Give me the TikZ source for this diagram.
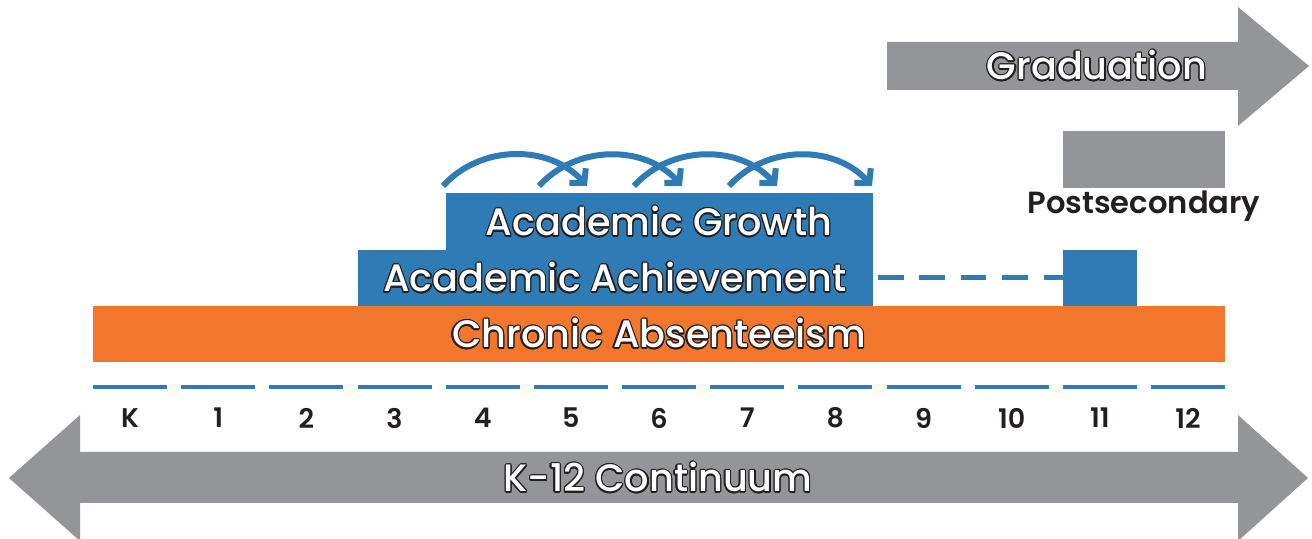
\documentclass[tikz,border=0pt]{standalone}
\usepackage{fontspec}
\IfFontExistsTF{Poppins Medium}{\setmainfont{Poppins Medium}}{\setmainfont{Poppins}}
\IfFontExistsTF{Poppins SemiBold}{\newfontfamily\labelfont{Poppins SemiBold}}{\newfontfamily\labelfont{Poppins}}
\usepackage{contour}
\contourlength{0.6pt}
\usetikzlibrary{arrows.meta}
\definecolor{cgray}{RGB}{147,149,152}
\definecolor{cblue}{RGB}{46,123,182}
\definecolor{corange}{RGB}{242,118,44}
\definecolor{cink}{RGB}{35,31,32}
\tikzset{
  bar/.style={inner sep=0pt, outer sep=0pt, anchor=north west},
  outlined/.style={text=white, font=\fontsize{19.1}{22}\selectfont, inner sep=0pt},
  tick/.style={text=cink, font=\labelfont\fontsize{13.5}{16}\selectfont, inner sep=0pt},
  hop/.style={cblue, line width=3pt, -{Straight Barb[length=5pt,width=11pt]}, bend left=48},
}
\begin{document}
\begin{tikzpicture}[x=0.5pt,y=-0.5pt]
\useasboundingbox (0,0) rectangle (1312,539);
% bottom double arrow
\fill[cgray] (9,478) -- (80,415) -- (80,452) -- (1238,452) -- (1238,415) -- (1308,478)
  -- (1238,541) -- (1238,503) -- (80,503) -- (80,541) -- cycle;
\node[outlined] (cont) at (658,478) {\contour{cink}{K-12 Continuum}};
% graduation arrow
\fill[cgray] (887,42) -- (1238,42) -- (1238,7) -- (1309,66) -- (1238,126) -- (1238,90) -- (887,90) -- cycle;
\node[outlined] (grad) at (1097,66) {\contour{cink}{Graduation}};
% postsecondary
\node[bar, fill=cgray, minimum width=81pt, minimum height=28.5pt] (postbox) at (1063,131) {};
\node[text=cink, font=\labelfont\fontsize{15.3}{18}\selectfont, inner sep=0pt] (postlbl) at (1144,206) {Postsecondary};
% blue boxes
\node[bar, fill=cblue, minimum width=257.5pt, minimum height=28pt] (ach) at (358,250) {};
\node[bar, fill=cblue, minimum width=213.5pt, minimum height=28.5pt] (grow) at (446,193) {};
\node[bar, fill=cblue, minimum width=37pt, minimum height=28pt] (small) at (1063,250) {};
\node[bar, fill=corange, minimum width=566pt, minimum height=28pt] (chron) at (93,306) {};
\node[outlined] (achlbl) at (615,278) {\contour{cink}{Academic Achievement}};
\node[outlined] (growlbl) at (659,222) {\contour{cink}{Academic Growth}};
\node[outlined] (chronlbl) at (659,334) {\contour{cink}{Chronic Absenteeism}};
% dashed connector
\coordinate (dstart) at (878,278);
\draw[cblue, line width=2.5pt, dash pattern=on 12.8pt off 7.9pt] (dstart) -- (small.west);
% grade ticks
\coordinate (tstart) at (93,387);
\coordinate (tend) at (1225,387);
\draw[cblue, line width=2pt, dash pattern=on 37pt off 7.085pt] (tstart) -- (tend);
\foreach \i/\t in {0/K,1/1,2/2,3/3,4/4,5/5,6/6,7/7,8/8,9/9,10/10,11/11,12/12}{
  \node[tick] (g\i) at (130+88.17*\i,418) {\t};
}
% growth hops
\coordinate (s1) at (443,186); \coordinate (e1) at (587,186);
\coordinate (s2) at (539,186); \coordinate (e2) at (682,186);
\coordinate (s3) at (634,186); \coordinate (e3) at (777,186);
\coordinate (s4) at (729,186); \coordinate (e4) at (872,186);
\draw[hop] (s1) to (e1);
\draw[hop] (s2) to (e2);
\draw[hop] (s3) to (e3);
\draw[hop] (s4) to (e4);
\end{tikzpicture}
\end{document}
